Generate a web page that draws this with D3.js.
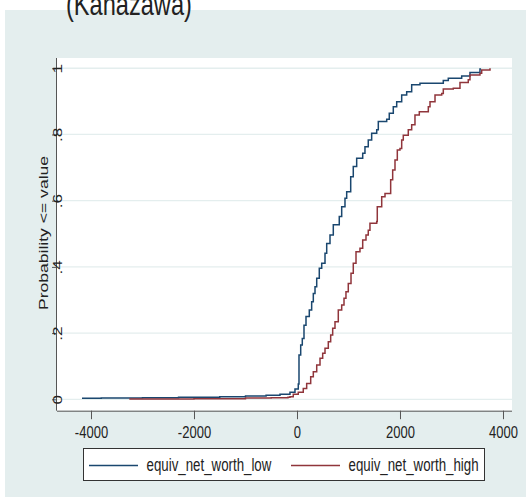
<!DOCTYPE html>
<html>
<head>
<meta charset="utf-8">
<script src="https://cdn.jsdelivr.net/npm/d3@7"></script>
<style>
  html, body { margin: 0; padding: 0; background: #fff; }
  svg { display: block; font-family: "Liberation Sans", Arial, sans-serif; }
</style>
</head>
<body>
<svg id="chart" width="526" height="498"></svg>
<script>
// net worth values (x) and cumulative probability (y)
var lowValues = [-4175, -3800, -3000, -2300, -1500, -1000, -600, -330, -136, -39, 25, 39, 39,
    72, 103, 136, 175, 239, 285, 317, 350, 383, 433, 480, 544, 577, 641, 705, 821, 868, 932, 965,
    1043, 1093, 1159, 1276, 1320, 1384, 1450, 1548, 1579, 1742, 1792, 1870, 1936, 2033, 2130,
    2227, 2388, 2841, 2938, 3198, 3359, 3553, 3560];
var lowProb = [0.003, 0.004, 0.005, 0.006, 0.008, 0.010, 0.012, 0.015, 0.021, 0.031, 0.046, 0.053, 0.134,
    0.164, 0.184, 0.224, 0.250, 0.270, 0.295, 0.320, 0.340, 0.366, 0.396, 0.411, 0.441, 0.471, 0.496,
    0.527, 0.552, 0.582, 0.607, 0.627, 0.672, 0.703, 0.728, 0.743, 0.763, 0.783, 0.804, 0.814, 0.839,
    0.846, 0.864, 0.884, 0.899, 0.919, 0.929, 0.950, 0.955, 0.963, 0.970, 0.977, 0.987, 0.998, 1.0];

var highValues = [-3256, -2000, -1000, -500, -175, -136, -72, 25, 122, 188, 266, 317, 383, 447,
    499, 544, 608, 654, 693, 738, 802, 868, 913, 951, 996, 1049, 1093, 1146, 1223, 1276, 1340,
    1384, 1417, 1548, 1559, 1645, 1709, 1819, 1858, 1903, 1948, 2000, 2033, 2064, 2161, 2227,
    2291, 2375, 2550, 2583, 2680, 2810, 2841, 3035, 3165, 3326, 3359, 3553, 3586, 3748];
var highProb = [0.001, 0.002, 0.004, 0.005, 0.006, 0.008, 0.015, 0.021, 0.033, 0.048, 0.068, 0.083,
    0.104, 0.124, 0.139, 0.154, 0.174, 0.194, 0.215, 0.234, 0.270, 0.285, 0.305, 0.325, 0.350, 0.381,
    0.411, 0.446, 0.456, 0.481, 0.496, 0.511, 0.532, 0.537, 0.582, 0.612, 0.622, 0.663, 0.693, 0.723,
    0.753, 0.758, 0.783, 0.798, 0.814, 0.829, 0.859, 0.869, 0.884, 0.899, 0.919, 0.924, 0.937, 0.940,
    0.957, 0.965, 0.980, 0.985, 0.995, 1.0];

var xTicks = [-4000, -2000, 0, 2000, 4000];
var yTicks = [0, 0.2, 0.4, 0.6, 0.8, 1];
var yTickLabels = ["0", ".2", ".4", ".6", ".8", "1"];
var seriesNames = ["equiv_net_worth_low", "equiv_net_worth_high"];

var svg = d3.select("#chart");
var stretch = 1.32;          // picture is stretched vertically, text too
var plotLeft = 57, plotRight = 512, plotTop = 58, plotBottom = 410.7;

var navy = "#1a476f", maroon = "#90353b", bluish = "#e4eeee";

// graph region
svg.append("rect")
    .attr("x", 5).attr("y", 10)
    .attr("width", 521).attr("height", 487)
    .attr("fill", bluish);

svg.append("text")
    .attr("transform", "translate(66,15) scale(1," + stretch + ")")
    .attr("font-size", "23.6px")
    .attr("fill", "#222")
    .text("(Kanazawa)");

// plot region
svg.append("rect")
    .attr("x", plotLeft).attr("y", plotTop)
    .attr("width", plotRight - plotLeft).attr("height", plotBottom - plotTop)
    .attr("fill", "#fff");

var xScale = d3.scaleLinear().domain([-4660, 4175]).range([plotLeft, plotRight]);
var yScale = d3.scaleLinear().domain([-0.0344, 1.031]).range([plotBottom, plotTop]);

// gridlines
svg.append("g")
    .selectAll("line")
    .data(yTicks).enter().append("line")
    .attr("x1", plotLeft).attr("x2", plotRight)
    .attr("y1", function (d) { return yScale(d); })
    .attr("y2", function (d) { return yScale(d); })
    .attr("stroke", bluish)
    .attr("stroke-width", 1.3);

// x axis
var xAxis = svg.append("g")
    .attr("transform", "translate(0," + plotBottom + ")")
    .call(d3.axisBottom(xScale).tickValues(xTicks).tickSize(8.5).tickSizeOuter(0)
        .tickFormat(function (d) { return String(d); }));
xAxis.select(".domain").attr("stroke", "#555").attr("d", "M" + plotLeft + ",0.5H" + plotRight);
xAxis.selectAll(".tick line").attr("stroke", "#555");
xAxis.selectAll(".tick text")
    .attr("y", 0).attr("dy", 0)
    .attr("transform", "translate(0,27.5) scale(1," + stretch + ")")
    .attr("font-size", "13px")
    .attr("font-family", "Liberation Sans, Arial, sans-serif")
    .attr("fill", "#222");

// y axis
var yAxis = svg.append("g")
    .attr("transform", "translate(" + plotLeft + ",0)")
    .call(d3.axisLeft(yScale).tickValues(yTicks).tickSize(5).tickSizeOuter(0)
        .tickFormat(function (d, i) { return yTickLabels[i]; }));
yAxis.select(".domain").attr("stroke", "#555").attr("d", "M-0.5," + plotTop + "V" + plotBottom);
yAxis.selectAll(".tick line").attr("stroke", "#555");
yAxis.selectAll(".tick text")
    .attr("x", 0).attr("dy", 0)
    .attr("transform", "translate(4.5,0) scale(1," + stretch + ") rotate(-90)")
    .attr("text-anchor", "middle")
    .attr("font-size", "13px")
    .attr("font-family", "Liberation Sans, Arial, sans-serif")
    .attr("fill", "#222");

svg.append("text")
    .attr("transform", "translate(47.5,233) scale(1," + stretch + ") rotate(-90)")
    .attr("text-anchor", "middle")
    .attr("font-size", "13.3px")
    .attr("fill", "#222")
    .text("Probability <= value");

// cdf lines
var line = d3.line()
    .x(function (d) { return xScale(d[0]); })
    .y(function (d) { return yScale(d[1]); })
    .curve(d3.curveStepAfter);

var lowData = d3.zip(lowValues, lowProb);
var highData = d3.zip(highValues, highProb);

svg.append("path")
    .datum(lowData)
    .attr("d", line)
    .attr("fill", "none")
    .attr("stroke", navy)
    .attr("stroke-width", 1.5);

svg.append("path")
    .datum(highData)
    .attr("d", line)
    .attr("fill", "none")
    .attr("stroke", maroon)
    .attr("stroke-width", 1.5);

// legend
var legend = svg.append("g");
legend.append("rect")
    .attr("x", 83.5).attr("y", 448.5)
    .attr("width", 401).attr("height", 32)
    .attr("fill", "#fff")
    .attr("stroke", "#333")
    .attr("stroke-width", 1);

var legendItems = legend.selectAll(".item")
    .data(seriesNames).enter().append("g")
    .attr("class", "item")
    .attr("transform", function (d, i) { return "translate(" + (89 + i * 202) + ",465.5)"; });

legendItems.append("line")
    .attr("x1", 0).attr("x2", 49)
    .attr("stroke", function (d, i) { return i === 0 ? navy : maroon; })
    .attr("stroke-width", 1.5);

legendItems.append("text")
    .attr("transform", "translate(57.5,5.5) scale(1," + stretch + ")")
    .attr("font-size", "13.3px")
    .attr("fill", "#222")
    .text(function (d) { return d; });
</script>
</body>
</html>
